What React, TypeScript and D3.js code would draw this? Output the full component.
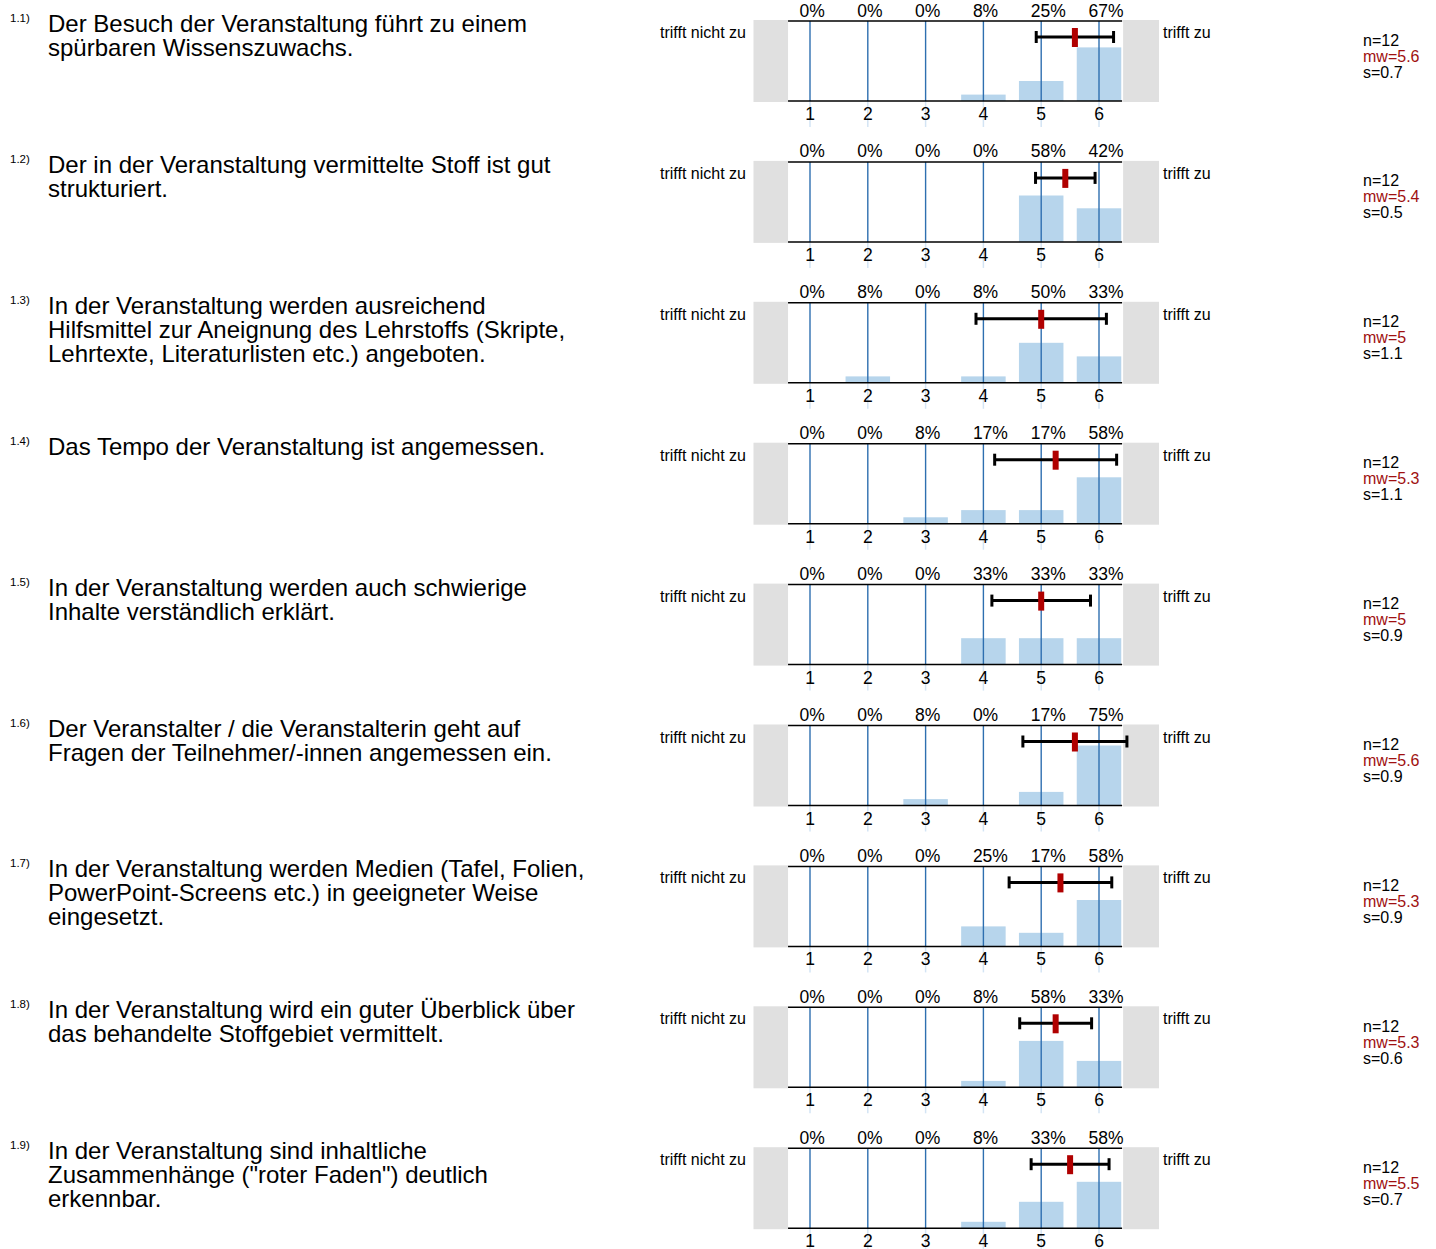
import React from "react";
import * as d3 from "d3";

const itemIds = ["1.1)", "1.2)", "1.3)", "1.4)", "1.5)", "1.6)", "1.7)", "1.8)", "1.9)"];
const questionLines: string[][] = [
  ["Der Besuch der Veranstaltung führt zu einem", "spürbaren Wissenszuwachs."],
  ["Der in der Veranstaltung vermittelte Stoff ist gut", "strukturiert."],
  ["In der Veranstaltung werden ausreichend", "Hilfsmittel zur Aneignung des Lehrstoffs (Skripte,", "Lehrtexte, Literaturlisten etc.) angeboten."],
  ["Das Tempo der Veranstaltung ist angemessen."],
  ["In der Veranstaltung werden auch schwierige", "Inhalte verständlich erklärt."],
  ["Der Veranstalter / die Veranstalterin geht auf", "Fragen der Teilnehmer/-innen angemessen ein."],
  ["In der Veranstaltung werden Medien (Tafel, Folien,", "PowerPoint-Screens etc.) in geeigneter Weise", "eingesetzt."],
  ["In der Veranstaltung wird ein guter Überblick über", "das behandelte Stoffgebiet vermittelt."],
  ["In der Veranstaltung sind inhaltliche", "Zusammenhänge (\"roter Faden\") deutlich", "erkennbar."],
];
const scaleValues = [1, 2, 3, 4, 5, 6];
const percents: number[][] = [
  [0, 0, 0, 8, 25, 67],
  [0, 0, 0, 0, 58, 42],
  [0, 8, 0, 8, 50, 33],
  [0, 0, 8, 17, 17, 58],
  [0, 0, 0, 33, 33, 33],
  [0, 0, 8, 0, 17, 75],
  [0, 0, 0, 25, 17, 58],
  [0, 0, 0, 8, 58, 33],
  [0, 0, 0, 8, 33, 58],
];
const nValues = [12, 12, 12, 12, 12, 12, 12, 12, 12];
// mean / standard deviation as placed by the markers (labels show them rounded)
const means = [5.583, 5.417, 5.0, 5.25, 5.0, 5.583, 5.333, 5.25, 5.5];
const sds = [0.669, 0.515, 1.128, 1.055, 0.853, 0.9, 0.888, 0.622, 0.674];
const leftPole = "trifft nicht zu";
const rightPole = "trifft zu";

const W = 1436;
const H = 1249;
const FONT = "'Liberation Sans', Arial, Helvetica, sans-serif";

export default function App() {
  const rowPitch = 140.9;
  const firstTop = 21;
  const plotH = 80;
  const x = d3.scaleLinear().domain([1, 6]).range([810, 1099]);
  const plotL = x(0.62);
  const plotR = x(6.4);
  const barW = x(1.77) - x(1);
  const y = d3.scaleLinear().domain([0, 100]).range([plotH, 0]);
  const fmt = d3.format(".1~f");

  return (
    <div style={{ position: "absolute", left: 0, top: 0 }}>
      <svg width={W} height={H} style={{ display: "block", fontFamily: FONT }}>
        <rect width={W} height={H} fill="#fff" />
        {itemIds.map((id, i) => {
          const top = firstTop + i * rowPitch;
          const lo = x(means[i] - sds[i]);
          const hi = x(means[i] + sds[i]);
          return (
            <g key={id} transform={`translate(0,${top})`}>
              <text x={10} y={1} fontSize={11.5} fill="#000">{id}</text>
              {questionLines[i].map((ln, j) => (
                <text key={j} x={48} y={11 + j * 24} fontSize={24} fill="#000">{ln}</text>
              ))}
              {/* grey pole boxes */}
              <rect x={753.5} y={-1} width={plotL - 753.5} height={plotH + 2} fill="#e0e0e0" />
              <rect x={plotR + 1} y={-1} width={1159 - plotR - 1} height={plotH + 2} fill="#e0e0e0" />
              <text x={746} y={17} fontSize={16} textAnchor="end" fill="#000">{leftPole}</text>
              <text x={1163} y={17} fontSize={16} fill="#000">{rightPole}</text>
              {/* bars */}
              {percents[i].map((p, k) =>
                p > 0 ? (
                  <rect key={k} x={x(scaleValues[k]) - barW / 2} y={y(p)} width={barW} height={plotH - y(p)} fill="#b7d5ec" />
                ) : null
              )}
              {/* grid lines */}
              {scaleValues.map((v) => (
                <g key={v}>
                  <line x1={x(v)} x2={x(v)} y1={plotH} y2={plotH + 26} stroke="#d3e4f4" strokeWidth={1.5} />
                  <line x1={x(v)} x2={x(v)} y1={0} y2={plotH} stroke="#2e6fb0" strokeWidth={1.4} />
                </g>
              ))}
              {/* axis lines */}
              <line x1={plotL} x2={plotR} y1={0} y2={0} stroke="#000" strokeWidth={1.5} />
              <line x1={plotL} x2={plotR} y1={plotH} y2={plotH} stroke="#000" strokeWidth={1.5} />
              {/* percent labels */}
              {percents[i].map((p, k) => (
                <text key={k} x={x(scaleValues[k]) - 10.5} y={-4.5} fontSize={17.5} fill="#000">{`${p}%`}</text>
              ))}
              {/* tick labels */}
              {scaleValues.map((v) => (
                <text key={v} x={x(v)} y={plotH + 19} fontSize={17.5} textAnchor="middle" fill="#000">{v}</text>
              ))}
              {/* error bar */}
              <g>
                <line x1={lo} x2={hi} y1={16} y2={16} stroke="#000" strokeWidth={3} />
                <line x1={lo} x2={lo} y1={10} y2={22} stroke="#000" strokeWidth={3} />
                <line x1={hi} x2={hi} y1={10} y2={22} stroke="#000" strokeWidth={3} />
                <rect x={x(means[i]) - 3} y={7} width={6} height={19} fill="#b00000" />
              </g>
              {/* stats */}
              <text x={1363} y={24.5} fontSize={16} fill="#000">{`n=${nValues[i]}`}</text>
              <text x={1363} y={40.5} fontSize={16} fill="#a01010">{`mw=${fmt(means[i])}`}</text>
              <text x={1363} y={56.5} fontSize={16} fill="#000">{`s=${fmt(sds[i])}`}</text>
            </g>
          );
        })}
      </svg>
    </div>
  );
}
